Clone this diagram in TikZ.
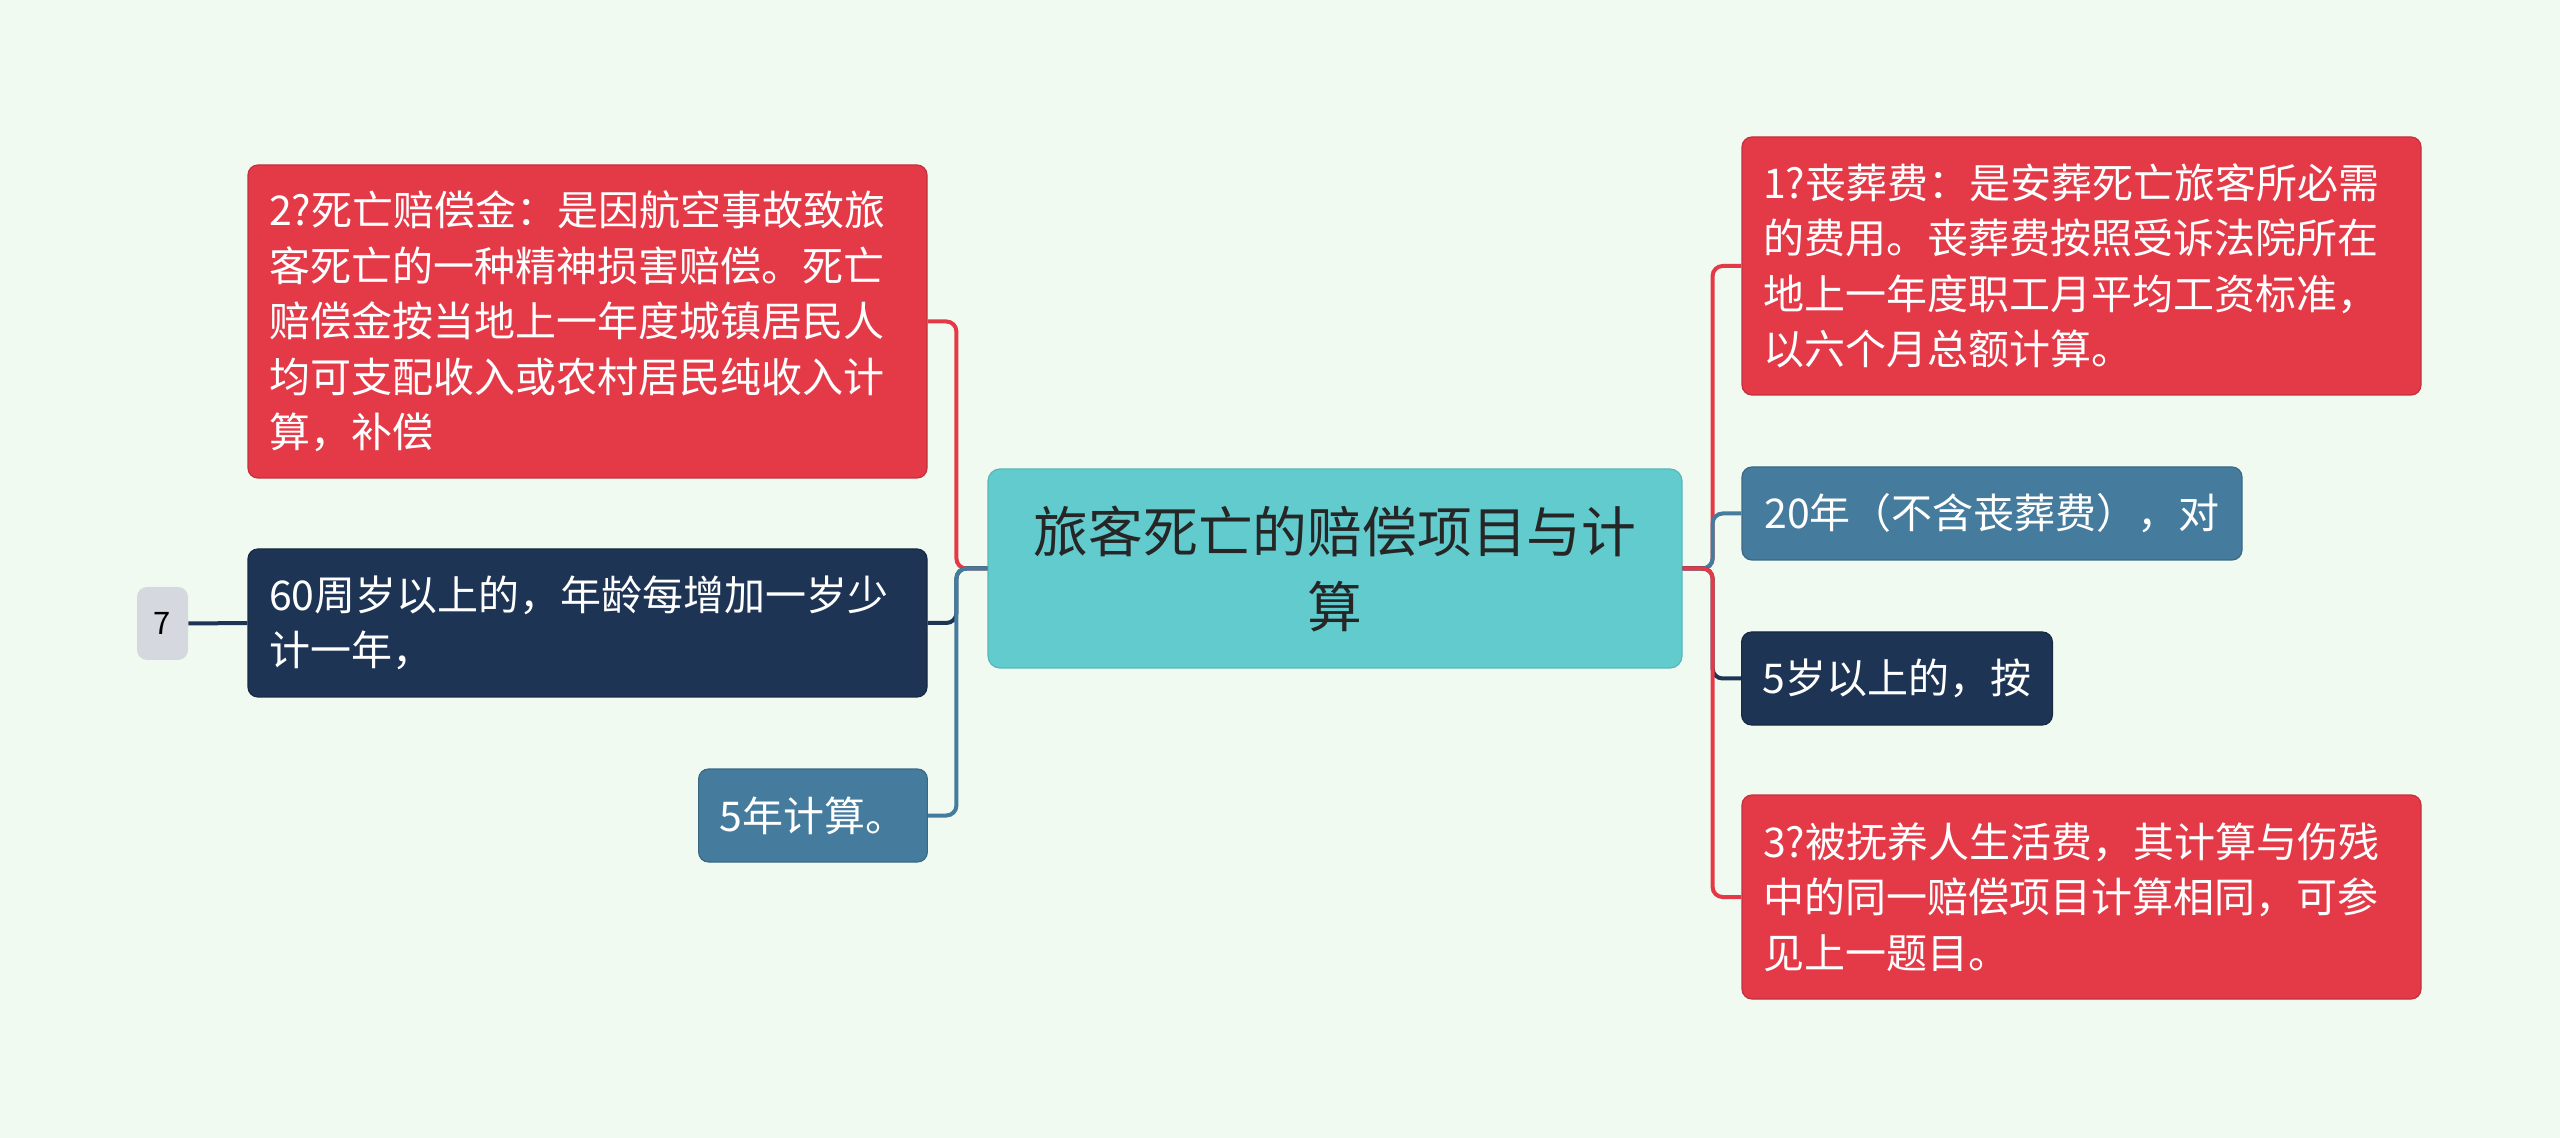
\documentclass[tikz,border=0pt]{standalone}
\usepackage{fontspec}
\newfontfamily\cjk{Noto Sans CJK SC}
\definecolor{bg}{HTML}{F1FAF0}
\definecolor{cred}{HTML}{E43A48}
\definecolor{cnavy}{HTML}{1E3454}
\definecolor{csteel}{HTML}{457B9D}
\definecolor{cteal}{HTML}{62CBCE}
\definecolor{cgray}{HTML}{D5D8DE}
\tikzset{
  card/.style={rounded corners=5pt, inner xsep=10.5pt, inner ysep=0pt, text=white,
    font={\cjk\fontsize{20.5}{27.75}\selectfont}},
  multi/.style={card, text width=318.5pt, align=left},
  redcard/.style={fill=cred, draw=cred!85!black, line width=0.6pt},
  navycard/.style={fill=cnavy, draw=cnavy!80!black, line width=0.6pt},
  steelcard/.style={fill=csteel, draw=csteel!85!black, line width=0.6pt},
  conn/.style={line width=2pt, rounded corners=5pt},
}
\begin{document}
\begin{tikzpicture}[x=0.5pt,y=-0.5pt]
\useasboundingbox[fill=bg] (0,0) rectangle (2560,1138);

% center
\node[rounded corners=6pt, fill=cteal, draw=cteal!90!black, line width=0.6pt,
  minimum width=347pt, minimum height=99.5pt, align=center, text=black!85,
  font={\cjk\fontsize{27.4}{37.5}\selectfont}] (center) at (1335,568.5)
  {旅客死亡的赔偿项目与计\\算};

% left side
\node[multi, redcard, minimum height=156.5pt] (b2) at (587.5,321.5)
  {2?死亡赔偿金：是因航空事故致旅\\客死亡的一种精神损害赔偿。死亡\\赔偿金按当地上一年度城镇居民人\\均可支配收入或农村居民纯收入计\\算，补偿};
\node[multi, navycard, minimum height=74pt] (b60) at (587.5,623)
  {60周岁以上的，年龄每增加一岁少\\计一年，};
\node[card, steelcard, minimum width=114pt, minimum height=46.5pt] (b5y) at (813,815.5)
  {5年计算。};
\node[rounded corners=5pt, fill=cgray, minimum width=25.5pt, minimum height=36.5pt,
  inner sep=0pt, text=black, font={\cjk\fontsize{15.5}{18}\selectfont}] (n7) at (162.5,623.5) {7};

% right side
\node[multi, redcard, minimum height=129pt] (r1) at (2081.5,266)
  {1?丧葬费：是安葬死亡旅客所必需\\的费用。丧葬费按照受诉法院所在\\地上一年度职工月平均工资标准，\\以六个月总额计算。};
\node[card, steelcard, minimum width=250pt, minimum height=46.5pt] (r20) at (1992,513.5)
  {20年（不含丧葬费），对};
\node[card, navycard, minimum width=155pt, minimum height=46.5pt] (r5) at (1897,678.5)
  {5岁以上的，按};
\node[multi, redcard, minimum height=102pt] (r3) at (2081.5,897)
  {3?被抚养人生活费，其计算与伤残\\中的同一赔偿项目计算相同，可参\\见上一题目。};

% connectors left
\draw[conn, cred] (center.west) -- ++(-31,0) |- (b2.east);
\draw[conn, cnavy] (center.west) -- ++(-31,0) |- (b60.east);
\draw[conn, csteel] (center.west) -- ++(-31,0) |- (b5y.east);
\draw[line width=2pt, cnavy] (n7.east) -- (b60.west);

% connectors right
\draw[conn, cred] (center.east) -- ++(30,0) |- (r1.west);
\draw[conn, csteel] (center.east) -- ++(30,0) |- (r20.west);
\draw[conn, cnavy] (center.east) -- ++(30,0) |- (r5.west);
\draw[conn, cred] (center.east) -- ++(30,0) |- (r3.west);
\end{tikzpicture}
\end{document}
